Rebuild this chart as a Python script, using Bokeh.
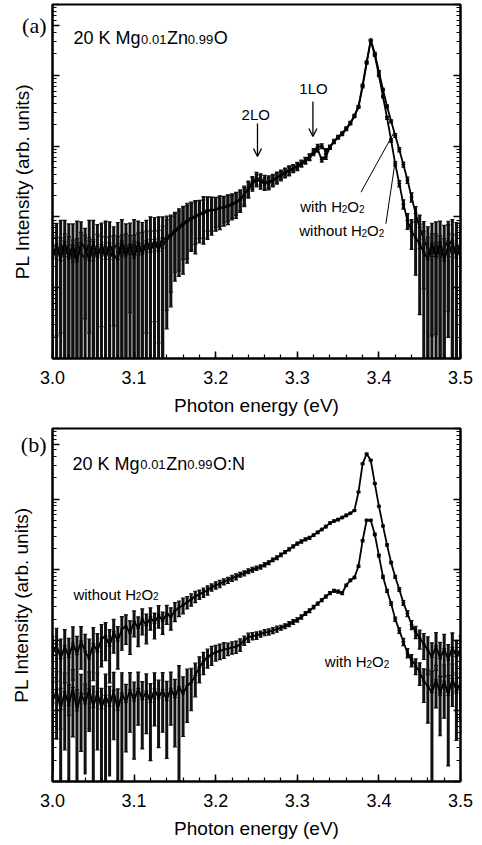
from bokeh.plotting import figure
from bokeh.layouts import column
from bokeh.models import (Range1d, LogAxis, LogTicker, FixedTicker, SingleIntervalTicker,
                          PrintfTickFormatter, CustomJSTickFormatter, Label, Arrow, OpenHead)
from bokeh.embed import file_html
from bokeh.resources import INLINE

# ---------------- data (log10 of PL intensity, arb. units) ----------------
ENERGY = [round(3.0 + 0.005 * i, 3) for i in range(101)]   # photon energy grid (eV)

# panel (a): Mg0.01Zn0.99O
A_WITH_LOG = [1.58, 1.40, 1.66, 1.44, 1.60, 1.36, 1.64, 1.48, 1.42, 1.66,
              1.38, 1.58, 1.45, 1.64, 1.40, 1.56, 1.62, 1.43, 1.60, 1.47,
              1.66, 1.46, 1.62, 1.50, 1.68, 1.52, 1.70, 1.56, 1.72, 1.76,
              1.82, 1.86, 1.92, 1.95, 1.99, 2.01, 2.04, 2.07, 2.10, 2.09,
              2.11, 2.12, 2.14, 2.15, 2.17, 2.20, 2.24, 2.30, 2.41, 2.49,
              2.55, 2.53, 2.50, 2.50, 2.53, 2.56, 2.60, 2.63, 2.66, 2.69,
              2.72, 2.76, 2.80, 2.85, 2.93, 2.99, 3.00, 2.93, 2.99, 3.07,
              3.13, 3.18, 3.25, 3.33, 3.43, 3.56, 3.86, 4.19, 4.50, 4.31,
              4.05, 3.80, 3.56, 3.35, 3.15, 2.95, 2.74, 2.52, 2.28, 2.05,
              1.85, 1.68, 1.56, 1.44, 1.64, 1.42, 1.58, 1.66, 1.44, 1.62,
              1.50]
A_WITH_REL = [1.00, 1.05, 0.95, 1.10, 1.00, 1.05, 1.00, 1.00, 1.10, 0.95,
              1.00, 1.05, 0.90, 1.00, 1.10, 1.00, 1.00, 1.05, 1.00, 0.85,
              1.00, 1.05, 1.00, 1.00, 1.10, 0.90, 1.00, 1.05, 0.95, 0.85,
              0.75, 0.80, 0.70, 0.75, 0.65, 0.60, 0.55, 0.65, 0.50, 0.55,
              0.45, 0.50, 0.40, 0.45, 0.35, 0.40, 0.30, 0.30, 0.25, 0.20,
              0.20, 0.20, 0.22, 0.20, 0.18, 0.18, 0.15, 0.15, 0.15, 0.12,
              0.12, 0.10, 0.10, 0.10, 0.08, 0.08, 0.08, 0.08, 0.06, 0.06,
              0.05, 0.05, 0.05, 0.05, 0.04, 0.04, 0.04, 0.03, 0.03, 0.03,
              0.04, 0.04, 0.05, 0.05, 0.06, 0.07, 0.08, 0.10, 0.15, 0.25,
              0.50, 0.80, 1.00, 1.10, 0.95, 1.05, 1.00, 0.90, 1.10, 1.00,
              1.05]
A_WO_LOG = [1.42, 1.62, 1.38, 1.65, 1.41, 1.60, 1.37, 1.63, 1.56, 1.39,
            1.65, 1.43, 1.61, 1.40, 1.63, 1.46, 1.40, 1.66, 1.45, 1.61,
            1.42, 1.64, 1.47, 1.66, 1.50, 1.68, 1.52, 1.70, 1.68, 1.73,
            1.79, 1.84, 1.89, 1.93, 1.97, 2.00, 2.03, 2.05, 2.08, 2.10,
            2.10, 2.13, 2.13, 2.16, 2.18, 2.21, 2.25, 2.32, 2.39, 2.47,
            2.52, 2.50, 2.47, 2.48, 2.51, 2.55, 2.58, 2.62, 2.65, 2.68,
            2.71, 2.75, 2.79, 2.84, 2.90, 2.95, 2.81, 2.85, 2.98, 3.06,
            3.12, 3.17, 3.24, 3.32, 3.42, 3.55, 3.84, 4.17, 4.49, 4.28,
            4.00, 3.70, 3.40, 3.08, 2.75, 2.47, 2.18, 1.95, 1.80, 1.70,
            1.62, 1.50, 1.40, 1.62, 1.44, 1.64, 1.38, 1.60, 1.66, 1.42,
            1.58]
A_WO_REL = [1.05, 0.95, 1.10, 1.00, 1.05, 1.00, 1.10, 1.00, 0.90, 1.05,
            1.00, 1.10, 1.00, 1.05, 1.00, 0.90, 1.10, 1.00, 1.05, 1.00,
            1.10, 1.00, 1.05, 0.95, 1.00, 1.05, 0.95, 1.00, 0.90, 0.90,
            0.80, 0.75, 0.80, 0.70, 0.65, 0.70, 0.60, 0.55, 0.60, 0.50,
            0.50, 0.45, 0.45, 0.40, 0.40, 0.35, 0.35, 0.30, 0.25, 0.22,
            0.20, 0.22, 0.20, 0.20, 0.18, 0.18, 0.15, 0.15, 0.15, 0.12,
            0.12, 0.10, 0.10, 0.10, 0.08, 0.08, 0.08, 0.08, 0.06, 0.06,
            0.05, 0.05, 0.05, 0.05, 0.04, 0.04, 0.04, 0.03, 0.03, 0.03,
            0.04, 0.04, 0.05, 0.06, 0.07, 0.10, 0.15, 0.25, 0.45, 0.70,
            0.90, 1.00, 1.05, 0.95, 1.10, 1.00, 1.05, 0.95, 1.00, 1.10,
            1.00]

# panel (b): Mg0.01Zn0.99O:N
B_WO_LOG = [1.80, 1.94, 1.74, 1.92, 1.76, 1.96, 1.80, 1.99, 1.84, 1.74,
            1.95, 1.84, 2.02, 2.06, 1.92, 2.12, 1.99, 2.16, 2.20, 2.10,
            2.27, 2.17, 2.30, 2.21, 2.33, 2.24, 2.36, 2.27, 2.38, 2.33,
            2.42, 2.46, 2.50, 2.54, 2.58, 2.62, 2.65, 2.68, 2.71, 2.75,
            2.78, 2.80, 2.83, 2.85, 2.88, 2.90, 2.93, 2.95, 2.98, 3.00,
            3.02, 3.04, 3.07, 3.10, 3.14, 3.17, 3.21, 3.25, 3.29, 3.33,
            3.37, 3.40, 3.43, 3.45, 3.49, 3.53, 3.57, 3.61, 3.66, 3.69,
            3.71, 3.74, 3.77, 3.80, 3.84, 4.10, 4.50, 4.64, 4.55, 4.22,
            3.90, 3.62, 3.35, 3.10, 2.90, 2.72, 2.53, 2.38, 2.22, 2.12,
            2.03, 1.95, 1.86, 1.76, 1.92, 1.74, 1.88, 1.72, 1.90, 1.77,
            1.86]
B_WO_REL = [0.80, 0.70, 0.90, 0.70, 0.85, 0.70, 0.80, 0.60, 0.75, 0.90,
            0.70, 0.80, 0.60, 0.55, 0.70, 0.50, 0.60, 0.50, 0.45, 0.50,
            0.40, 0.45, 0.40, 0.45, 0.35, 0.40, 0.35, 0.35, 0.30, 0.35,
            0.30, 0.25, 0.25, 0.20, 0.20, 0.18, 0.15, 0.15, 0.15, 0.12,
            0.12, 0.12, 0.10, 0.10, 0.10, 0.10, 0.08, 0.08, 0.08, 0.08,
            0.07, 0.07, 0.07, 0.06, 0.06, 0.06, 0.06, 0.05, 0.05, 0.05,
            0.05, 0.05, 0.05, 0.05, 0.04, 0.04, 0.04, 0.04, 0.04, 0.04,
            0.04, 0.04, 0.04, 0.03, 0.03, 0.03, 0.03, 0.03, 0.03, 0.03,
            0.03, 0.03, 0.04, 0.04, 0.05, 0.06, 0.08, 0.10, 0.15, 0.20,
            0.30, 0.40, 0.55, 0.60, 0.55, 0.70, 0.60, 0.65, 0.60, 0.70,
            0.60]
B_WITH_LOG = [1.12, 1.30, 1.02, 1.27, 1.08, 1.33, 1.00, 1.25, 1.10, 1.31,
              1.05, 1.27, 1.03, 1.22, 1.07, 1.29, 1.01, 1.25, 1.12, 1.30,
              1.14, 1.32, 1.16, 1.28, 1.12, 1.31, 1.18, 1.30, 1.15, 1.32,
              1.19, 1.34, 1.24, 1.36, 1.40, 1.50, 1.62, 1.70, 1.76, 1.80,
              1.83, 1.85, 1.87, 1.88, 1.90, 1.91, 1.94, 2.00, 2.04, 2.06,
              2.07, 2.09, 2.11, 2.12, 2.14, 2.16, 2.18, 2.20, 2.23, 2.26,
              2.29, 2.33, 2.38, 2.42, 2.47, 2.52, 2.57, 2.62, 2.67, 2.70,
              2.69, 2.67, 2.78, 2.85, 2.89, 3.05, 3.41, 3.70, 3.70, 3.50,
              3.20, 2.90, 2.70, 2.52, 2.30, 2.14, 1.98, 1.82, 1.72, 1.64,
              1.55, 1.42, 1.35, 1.26, 1.44, 1.25, 1.42, 1.22, 1.46, 1.28,
              1.40]
B_WITH_REL = [0.90, 0.80, 1.00, 0.85, 0.95, 0.80, 1.00, 0.85, 0.90, 0.75,
              1.00, 0.85, 0.95, 1.00, 0.90, 0.80, 1.00, 0.95, 0.80, 0.75,
              0.85, 0.70, 0.80, 0.75, 0.85, 0.70, 0.80, 0.75, 0.85, 0.70,
              0.80, 1.00, 0.75, 0.70, 0.60, 0.50, 0.40, 0.35, 0.30, 0.30,
              0.25, 0.25, 0.25, 0.20, 0.20, 0.20, 0.20, 0.15, 0.15, 0.12,
              0.12, 0.10, 0.10, 0.10, 0.10, 0.10, 0.08, 0.08, 0.08, 0.08,
              0.07, 0.07, 0.06, 0.06, 0.06, 0.05, 0.05, 0.05, 0.05, 0.05,
              0.05, 0.05, 0.04, 0.04, 0.04, 0.04, 0.04, 0.03, 0.03, 0.04,
              0.04, 0.05, 0.05, 0.06, 0.07, 0.09, 0.12, 0.15, 0.20, 0.25,
              0.35, 0.50, 0.70, 1.00, 0.60, 0.75, 0.70, 0.90, 0.60, 0.80,
              0.70]

X_TICK_LABELS = ["3.0", "3.1", "3.2", "3.3", "3.4", "3.5"]
X_TITLE = "Photon energy (eV)"
Y_TITLE = "PL Intensity (arb. units)"
PANEL_TAGS = ["(a)", "(b)"]

SANS = "Liberation Sans"
SERIF = "Liberation Serif"
W = 482
X0, X1 = 3.0, 3.5
YLO, YHI = 1.0, 1.0e5
DECADES = [1.0, 10.0, 100.0, 1e3, 1e4, 1e5]
MINORS = [m * 10.0 ** k for k in range(5) for m in range(2, 10)]
BLANK = CustomJSTickFormatter(code="return ''")


def make_panel(height, fl, fr, ft, fb, tag, tag_at):
    p = figure(width=W, height=height, x_range=Range1d(X0, X1),
               y_range=Range1d(YLO, YHI), y_axis_type="log",
               output_backend="svg", toolbar_location=None,
               min_border_left=fl, min_border_right=W - fr,
               min_border_top=ft, min_border_bottom=height - fb)
    p.grid.visible = False
    p.background_fill_color = "white"
    p.border_fill_color = "white"
    p.outline_line_color = "black"
    p.outline_line_width = 2

    xa = p.xaxis[0]
    xa.ticker = SingleIntervalTicker(interval=0.1, num_minor_ticks=5)
    xa.formatter = PrintfTickFormatter(format="%.1f")
    xa.axis_label = X_TITLE

    # left axis: log ticks; the panel tag "(a)"/"(b)" is written as the one tick label
    ya = p.yaxis[0]
    ya.ticker = FixedTicker(ticks=DECADES + [tag_at], minor_ticks=MINORS)
    ya.formatter = CustomJSTickFormatter(args=dict(t=tag_at, s=tag),
                                         code="return Math.abs(tick - t) < 1 ? s : ''")
    ya.axis_label = Y_TITLE
    ya.major_label_standoff = 6
    ya.axis_label_standoff = -14

    ra = LogAxis(ticker=LogTicker(num_minor_ticks=10), formatter=BLANK)
    ra.major_label_standoff = 0
    p.add_layout(ra, "right")

    for ax in (xa, ya, ra):
        ax.axis_line_color = "black"
        ax.axis_line_width = 2
        ax.major_tick_in = 7
        ax.major_tick_out = 0
        ax.minor_tick_in = 4
        ax.minor_tick_out = 0
        ax.major_tick_line_color = "black"
        ax.minor_tick_line_color = "black"
        ax.major_tick_line_width = 1.5
        ax.minor_tick_line_width = 1.2
        ax.axis_label_text_font = SANS
        ax.axis_label_text_font_size = "19px"
        ax.axis_label_text_font_style = "normal"
        ax.axis_label_text_color = "black"
        ax.major_label_text_font = SANS
        ax.major_label_text_font_size = "18px"
        ax.major_label_text_color = "black"
    ya.major_label_text_font = SERIF
    ya.major_label_text_font_size = "22px"
    xa.major_label_standoff = 12
    xa.axis_label_standoff = 8

    def px2x(px):
        return X0 + (px - fl) / (fr - fl) * (X1 - X0)

    def py2y(py):
        return 10 ** (5.0 * (fb - py) / (fb - ft))

    return p, px2x, py2y


def add_curve(p, logs, rels):
    inten = [10 ** v for v in logs]
    hi = [i * (1 + r) for i, r in zip(inten, rels)]
    lo = [i * (1 - r) if r < 1 else 1e-3 for i, r in zip(inten, rels)]
    p.segment(ENERGY, lo, ENERGY, hi, line_color="#111111", line_width=3.0)
    p.scatter(ENERGY, hi, marker="dash", size=4, line_color="#111111", line_width=1.2)
    lx = [e for e, l in zip(ENERGY, lo) if l > 1.5]
    ly = [l for l in lo if l > 1.5]
    p.scatter(lx, ly, marker="dash", size=4, line_color="#111111", line_width=1.2)
    p.line(ENERGY, inten, line_color="black", line_width=1.8)
    p.scatter(ENERGY, inten, marker="cross", size=4, line_color="black", line_width=1)


def add_text(p, px2x, py2y, px, py, txt, size, font=SANS):
    p.add_layout(Label(x=px2x(px), y=py2y(py), text=txt, text_font=font,
                       text_font_size=f"{size}px", text_color="black",
                       text_baseline="alphabetic", text_align="left"))


def add_formula(p, px2x, py2y, x_parts, py, parts):
    for (txt, sub), px in zip(parts, x_parts):
        add_text(p, px2x, py2y, px, py + (1 if sub else 0), txt, 13 if sub else 18)


def add_h2o2(p, px2x, py2y, px, py, lead):
    add_text(p, px2x, py2y, px, py, lead + "H", 15)
    w = {"with ": 41.7, "without ": 62.5}[lead]
    add_text(p, px2x, py2y, px + w, py + 2, "2", 10)
    add_text(p, px2x, py2y, px + w + 5.6, py, "O", 15)
    add_text(p, px2x, py2y, px + w + 17.3, py + 2, "2", 10)


# ---------------- panel (a) ----------------
pa, ax_x, ax_y = make_panel(420, 50, 460, 4, 358, PANEL_TAGS[0], 5e4)
add_curve(pa, A_WITH_LOG, A_WITH_REL)
add_curve(pa, A_WO_LOG, A_WO_REL)
add_formula(pa, ax_x, ax_y, [71, 139, 165, 186, 212], 37.5,
            [("20 K Mg", False), ("0.01", True), ("Zn", False), ("0.99", True), ("O", False)])
add_text(pa, ax_x, ax_y, 240, 113.5, "2LO", 15)
add_text(pa, ax_x, ax_y, 298, 88, "1LO", 15)
for xs, y0, y1 in [(256, 123, 156), (311.7, 101, 136)]:
    pa.add_layout(Arrow(end=OpenHead(size=8, line_width=1.3, line_color="black"),
                        x_start=ax_x(xs), y_start=ax_y(y0), x_end=ax_x(xs), y_end=ax_y(y1),
                        line_width=1.3, line_color="black"))
add_h2o2(pa, ax_x, ax_y, 299, 206, "with ")
add_h2o2(pa, ax_x, ax_y, 298, 230, "without ")
pa.segment([ax_x(360), ax_x(385)], [ax_y(191.7), ax_y(223.3)],
           [ax_x(393.3), ax_x(394)], [ax_y(131.7), ax_y(163.3)],
           line_color="black", line_width=1)

# ---------------- panel (b) ----------------
pb, bx_x, bx_y = make_panel(425, 52, 461, 8, 361, PANEL_TAGS[1], 6e4)
add_curve(pb, B_WO_LOG, B_WO_REL)
add_curve(pb, B_WITH_LOG, B_WITH_REL)
add_formula(pb, bx_x, bx_y, [72, 140, 166, 187, 213], 43.3,
            [("20 K Mg", False), ("0.01", True), ("Zn", False), ("0.99", True), ("O:N", False)])
add_h2o2(pb, bx_x, bx_y, 73, 173.5, "without ")
add_h2o2(pb, bx_x, bx_y, 325, 241, "with ")

layout = column(pa, pb, spacing=0)
open("out.html", "w").write(file_html(layout, INLINE))
